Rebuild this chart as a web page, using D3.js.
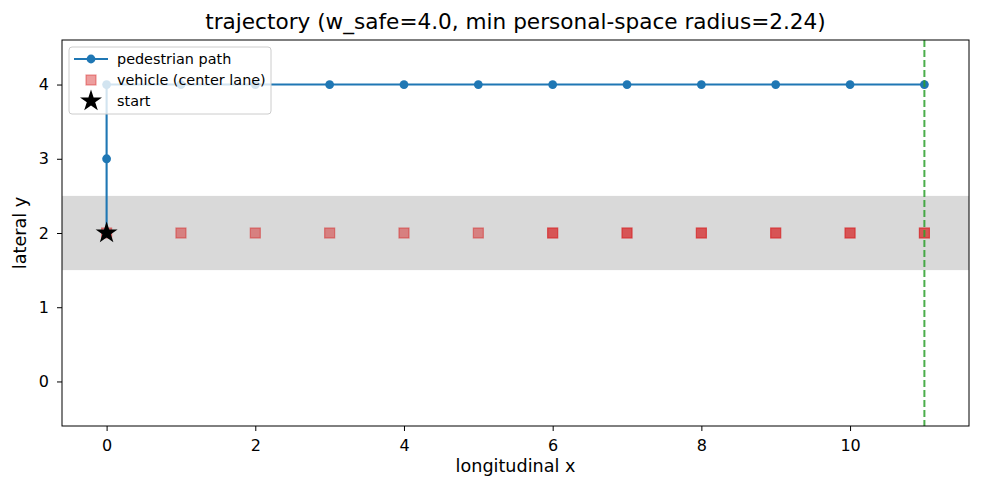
<!DOCTYPE html>
<html>
<head>
<meta charset="utf-8">
<script src="https://cdn.jsdelivr.net/npm/d3@7"></script>
<style>
  body { margin: 0; background: #fff; }
  text { font-family: "DejaVu Sans", sans-serif; fill: #000; }
</style>
</head>
<body>
<svg id="chart" width="982" height="495"></svg>
<script>
/* ── data ── */
const pedX = [0, 0, 0, 1, 2, 3, 4, 5, 6, 7, 8, 9, 10, 11];
const pedY = [2, 3, 4, 4, 4, 4, 4, 4, 4, 4, 4, 4, 4, 4];
const vehX = [0, 1, 2, 3, 4, 5, 6, 7, 8, 9, 10, 11];
const vehY = [2, 2, 2, 2, 2, 2, 2, 2, 2, 2, 2, 2];
const vehAlpha = [0.5, 0.5, 0.5, 0.5, 0.5, 0.5, 0.75, 0.75, 0.75, 0.75, 0.75, 0.75];
const laneBand = [1.5, 2.5];
const goalX = 11;
const startPt = [0, 2];
const xTicks = [0, 2, 4, 6, 8, 10];
const yTicks = [0, 1, 2, 3, 4];

/* ── layout ── */
const svg = d3.select("#chart");
const m = { left: 62, top: 40, right: 969, bottom: 426 };

const x = d3.scaleLinear().domain([-0.6, 11.6]).range([m.left, m.right]);
const y = d3.scaleLinear().domain([-0.6, 4.6]).range([m.bottom, m.top]);

svg.append("clipPath").attr("id", "clip")
  .append("rect").attr("x", m.left).attr("y", m.top)
  .attr("width", m.right - m.left).attr("height", m.bottom - m.top);

const plot = svg.append("g").attr("clip-path", "url(#clip)");

// lane band
plot.append("rect")
  .attr("x", m.left).attr("width", m.right - m.left)
  .attr("y", y(laneBand[1])).attr("height", y(laneBand[0]) - y(laneBand[1]))
  .attr("fill", "#d9d9d9");

// vehicle squares
const sq = 10;
plot.selectAll(".veh").data(vehX.map((d, i) => ({ x: d, y: vehY[i], a: vehAlpha[i] })))
  .join("rect")
  .attr("x", d => x(d.x) - sq / 2).attr("y", d => y(d.y) - sq / 2)
  .attr("width", sq).attr("height", sq)
  .attr("fill", "#d62728").attr("fill-opacity", d => d.a)
  .attr("stroke", "#d62728").attr("stroke-opacity", d => d.a).attr("stroke-width", 1.2);

// pedestrian path
const ped = pedX.map((d, i) => ({ x: d, y: pedY[i] }));
plot.append("path").datum(ped)
  .attr("d", d3.line().x(d => x(d.x)).y(d => y(d.y)))
  .attr("fill", "none").attr("stroke", "#1f77b4").attr("stroke-width", 2.1);
plot.selectAll(".ped").data(ped).join("circle")
  .attr("cx", d => x(d.x)).attr("cy", d => y(d.y)).attr("r", 4.4)
  .attr("fill", "#1f77b4");

// goal line
plot.append("line")
  .attr("x1", x(goalX)).attr("x2", x(goalX))
  .attr("y1", m.top).attr("y2", m.bottom)
  .attr("stroke", "#2ca02c").attr("stroke-width", 2)
  .attr("stroke-dasharray", "7,3").attr("opacity", 0.85);

// start star
const star = d3.symbol().type(d3.symbolStar).size(150);
plot.append("path").attr("d", star())
  .attr("transform", `translate(${x(startPt[0])},${y(startPt[1])})`)
  .attr("fill", "#000");

/* ── axes ── */
const gx = svg.append("g").attr("transform", `translate(0,${m.bottom})`)
  .call(d3.axisBottom(x).tickValues(xTicks).tickSize(5).tickPadding(9).tickFormat(d3.format("d")));
const gy = svg.append("g").attr("transform", `translate(${m.left},0)`)
  .call(d3.axisLeft(y).tickValues(yTicks).tickSize(5).tickPadding(8).tickFormat(d3.format("d")));
[gx, gy].forEach(g => {
  g.select(".domain").remove();
  g.selectAll("text").style("font-size", "16px").style("font-family", "DejaVu Sans");
  g.selectAll("line").attr("stroke", "#000");
});

svg.append("rect").attr("x", m.left).attr("y", m.top)
  .attr("width", m.right - m.left).attr("height", m.bottom - m.top)
  .attr("fill", "none").attr("stroke", "#000").attr("stroke-width", 1);

svg.append("text").attr("x", (m.left + m.right) / 2).attr("y", 29)
  .attr("text-anchor", "middle").style("font-size", "21.6px")
  .text("trajectory (w_safe=4.0, min personal-space radius=2.24)");
svg.append("text").attr("x", (m.left + m.right) / 2).attr("y", 472)
  .attr("text-anchor", "middle").style("font-size", "17.6px").text("longitudinal x");
svg.append("text").attr("transform", `translate(26,${(m.top + m.bottom) / 2}) rotate(-90)`)
  .attr("text-anchor", "middle").style("font-size", "17.6px").text("lateral y");

/* ── legend ── */
const lg = svg.append("g").attr("transform", "translate(69,47)");
lg.append("rect").attr("width", 202).attr("height", 67).attr("rx", 3)
  .attr("fill", "#fff").attr("fill-opacity", 0.8)
  .attr("stroke", "#ccc").attr("stroke-width", 1);
const rows = [12, 33, 54];
lg.append("line").attr("x1", 5).attr("x2", 39).attr("y1", rows[0]).attr("y2", rows[0])
  .attr("stroke", "#1f77b4").attr("stroke-width", 2.1);
lg.append("circle").attr("cx", 22).attr("cy", rows[0]).attr("r", 4.4).attr("fill", "#1f77b4");
lg.append("rect").attr("x", 17).attr("y", rows[1] - 5).attr("width", 10).attr("height", 10)
  .attr("fill", "#d62728").attr("fill-opacity", 0.45)
  .attr("stroke", "#d62728").attr("stroke-opacity", 0.45).attr("stroke-width", 1.2);
lg.append("path").attr("d", star()).attr("transform", `translate(22,${rows[2]})`).attr("fill", "#000");
["pedestrian path", "vehicle (center lane)", "start"].forEach((t, i) => {
  lg.append("text").attr("x", 48).attr("y", rows[i] + 5).style("font-size", "14.4px").text(t);
});
</script>
</body>
</html>
